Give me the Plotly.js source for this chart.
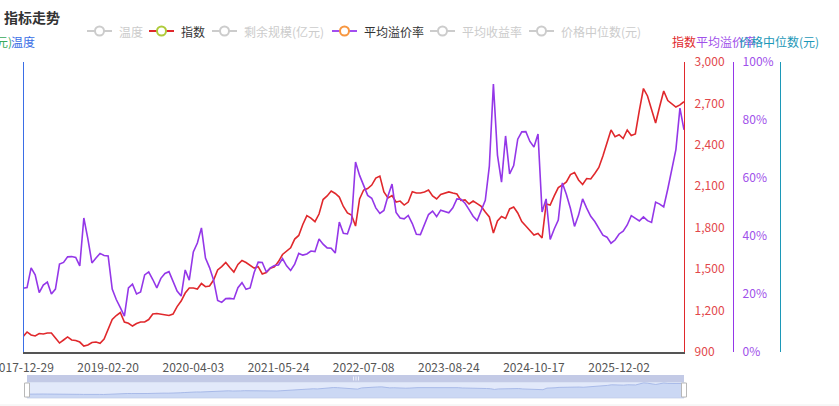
<!DOCTYPE html>
<html>
<head>
<meta charset="utf-8">
<script src="https://cdn.plot.ly/plotly-3.0.1.min.js"></script>
<style>
  html, body { margin: 0; padding: 0; background: #fff; }
  #chart { width: 839px; height: 406px; }
</style>
</head>
<body>
<div id="chart"></div>
<script>
// tick labels on the category axis (one label every 21 samples)
var tickLabels = ['2017-12-29', '2019-02-20', '2020-04-03', '2021-05-24',
                  '2022-07-08', '2023-08-24', '2024-10-17', '2025-12-02'];

// 指数 (one sample per ~4px)
var indexValues = [
  1011, 1045, 1023, 1016, 1034, 1030, 1038, 1038, 1001, 965,
  987, 1009, 987, 983, 972, 943, 951, 969, 972, 963,
  994, 1059, 1135, 1164, 1186, 1117, 1108, 1088, 1106, 1117,
  1117, 1135, 1175, 1179, 1175, 1168, 1164, 1175, 1229, 1269,
  1327, 1363, 1363, 1356, 1396, 1373, 1378, 1421, 1494, 1518,
  1548, 1512, 1479, 1534, 1563, 1548, 1530, 1508, 1518, 1465,
  1476, 1506, 1516, 1555, 1606, 1631, 1655, 1718, 1744, 1823,
  1888, 1870, 1844, 1899, 2004, 2030, 2066, 2048, 2022, 1954,
  1907, 1892, 1812, 2008, 2073, 2084, 2109, 2160, 2174, 2059,
  2015, 2033, 1986, 1993, 1964, 1986, 2061, 2051, 2051, 2059,
  2073, 2030, 2008, 2041, 2049, 2059, 2051, 2044, 1997, 2001,
  1972, 1993, 1975, 1954, 1914, 1878, 1762, 1849, 1881, 1867,
  1936, 1950, 1907, 1844, 1812, 1783, 1747, 1758, 1726, 1972,
  1964, 2030, 2091, 2109, 2131, 2185, 2200, 2146, 2113, 2156,
  2153, 2193, 2236, 2319, 2406, 2508, 2459, 2473, 2446, 2508,
  2468, 2479, 2652, 2808, 2754, 2652, 2558, 2678, 2790, 2721,
  2696, 2674, 2689, 2713
];

// 平均溢价率 (%)
var premiumValues = [
  22.0, 22.2, 29.0, 26.6, 20.5, 23.1, 24.1, 20.0, 21.7, 30.3,
  30.9, 32.8, 32.9, 32.6, 29.7, 46.2, 39.0, 30.7, 32.4, 34.0,
  33.3, 33.1, 21.7, 18.1, 15.3, 12.4, 22.1, 23.4, 20.0, 20.7,
  26.6, 27.6, 25.0, 22.1, 25.4, 27.1, 27.7, 24.5, 21.0, 19.3,
  28.3, 24.8, 34.5, 37.6, 42.8, 32.4, 29.1, 24.8, 17.8, 17.1,
  18.4, 18.5, 18.3, 22.2, 23.9, 21.6, 22.1, 27.4, 31.0, 30.9,
  27.6, 29.0, 29.8, 30.0, 32.2, 29.7, 28.1, 30.3, 34.0, 33.4,
  33.8, 34.8, 34.6, 39.0, 37.2, 35.9, 35.8, 34.1, 44.8, 40.9,
  40.7, 44.8, 65.5, 60.9, 57.1, 54.0, 53.0, 49.7, 47.8, 48.8,
  53.8, 57.9, 48.1, 46.2, 45.9, 47.1, 44.3, 40.6, 40.5, 44.3,
  47.4, 48.6, 46.7, 48.9, 48.4, 48.0, 49.7, 52.8, 52.7, 51.3,
  49.1, 46.8, 45.3, 48.9, 52.3, 64.1, 92.4, 67.9, 58.6, 74.5,
  61.4, 64.3, 73.4, 75.9, 76.0, 72.6, 70.7, 75.2, 48.3, 52.8,
  38.8, 42.4, 45.5, 58.3, 54.3, 49.5, 43.3, 47.2, 52.8, 49.6,
  46.8, 45.0, 42.4, 40.3, 39.6, 37.5, 38.6, 40.7, 41.7, 43.8,
  47.0, 46.1, 45.2, 46.6, 45.3, 44.7, 51.7, 51.0, 50.0, 56.2,
  63.3, 69.8, 84.1, 76.6
];

var legendItems = ['温度', '指数', '剩余规模(亿元)', '平均溢价率', '平均收益率', '价格中位数(元)'];

var FONT = 'Noto Sans CJK SC, Noto Sans, sans-serif';
var RED = '#e0282c';
var PURPLE = '#9437e8';
var TEAL = '#1c98b8';
var BLUE = '#3a6ee6';
var GREEN = '#3aaa5a';

// pixel -> paper helpers (plot box is x 23..790, y 62..398)
var L = 23, W = 767, T = 62, H = 336;
function px(x) { return (x - L) / W; }
function py(y) { return (T + H - y) / H; }

var last = indexValues.length - 1;
var tickPos = tickLabels.map(function (_, k) { return k * 21; });

var traces = [
  {
    y: indexValues, type: 'scatter', mode: 'lines', name: '指数',
    line: { color: RED, width: 1.6 }, xaxis: 'x', yaxis: 'y', hoverinfo: 'skip'
  },
  {
    y: premiumValues, type: 'scatter', mode: 'lines', name: '平均溢价率',
    line: { color: PURPLE, width: 1.6 }, xaxis: 'x', yaxis: 'y2', hoverinfo: 'skip'
  },
  // hidden series, only here so their axes get drawn
  { x: [], y: [], type: 'scatter', mode: 'lines', name: '价格中位数(元)', xaxis: 'x', yaxis: 'y3' },
  { x: [], y: [], type: 'scatter', mode: 'lines', name: '温度', xaxis: 'x', yaxis: 'y4' },
  // data shadow in the zoom slider
  {
    y: indexValues, type: 'scatter', mode: 'lines', fill: 'tozeroy',
    line: { color: '#a3b6e6', width: 0.9 }, fillcolor: 'rgba(170,190,235,0.4)',
    xaxis: 'x2', yaxis: 'y5', hoverinfo: 'skip'
  }
];

// legend drawn by hand so inactive entries can be grey
var legendX = [87, 149, 212, 332, 430, 529];
var legendOn = [false, true, false, true, false, false];
var legendLine = ['#ccc', RED, '#ccc', '#a24ef0', '#ccc', '#ccc'];
var legendDot = ['#ccc', '#aecb3a', '#ccc', '#f7963f', '#ccc', '#ccc'];
var LY = 31;

var shapes = [];
var annotations = [];

legendItems.forEach(function (name, i) {
  var x0 = legendX[i];
  shapes.push({
    type: 'line', xref: 'paper', yref: 'paper',
    x0: px(x0), x1: px(x0 + 25), y0: py(LY), y1: py(LY),
    line: { color: legendLine[i], width: 2 }
  });
  shapes.push({
    type: 'circle', xref: 'paper', yref: 'paper',
    x0: px(x0 + 8), x1: px(x0 + 17), y0: py(LY + 4.5), y1: py(LY - 4.5),
    fillcolor: '#fff', line: { color: legendDot[i], width: 2 }
  });
  annotations.push({
    xref: 'paper', yref: 'paper', x: px(x0 + 30), y: py(LY),
    xanchor: 'left', yanchor: 'middle', showarrow: false, text: name,
    font: { family: FONT, size: 12, color: legendOn[i] ? '#333' : '#ccc' }
  });
});

// chart title
annotations.push({
  xref: 'paper', yref: 'paper', x: px(2), y: py(17),
  xanchor: 'left', yanchor: 'middle', showarrow: false, text: '<b>指标走势</b>',
  font: { family: FONT, size: 14, color: '#333' }
});

// axis names at the top of each axis
var axisNames = [
  { text: '剩余规模(亿元)', x: 14, anchor: 'right', color: GREEN },
  { text: '温度', x: 23, anchor: 'center', color: BLUE },
  { text: '指数', x: 684, anchor: 'center', color: RED },
  { text: '平均溢价率', x: 726, anchor: 'center', color: '#a050ea' },
  { text: '价格中位数(元)', x: 779, anchor: 'center', color: TEAL }
];
axisNames.forEach(function (a) {
  annotations.push({
    xref: 'paper', yref: 'paper', x: px(a.x), y: py(41),
    xanchor: a.anchor, yanchor: 'middle', showarrow: false, text: a.text,
    font: { family: FONT, size: 12, color: a.color }
  });
});

// zoom slider frame
shapes.push({
  type: 'rect', xref: 'paper', yref: 'paper', layer: 'below',
  x0: px(27), x1: px(684), y0: py(398), y1: py(382),
  fillcolor: '#e2e9fa', line: { color: '#d2dbee', width: 1 }
});
shapes.push({
  type: 'rect', xref: 'paper', yref: 'paper',
  x0: px(27), x1: px(684), y0: py(382), y1: py(375),
  fillcolor: '#c3cae6', line: { width: 0 }
});
[353.5, 356, 358.5].forEach(function (gx) {
  shapes.push({
    type: 'line', xref: 'paper', yref: 'paper',
    x0: px(gx), x1: px(gx), y0: py(380.5), y1: py(376.5),
    line: { color: '#eef1fa', width: 1 }
  });
});
[27, 684].forEach(function (hx) {
  shapes.push({
    type: 'rect', xref: 'paper', yref: 'paper',
    x0: px(hx - 2.5), x1: px(hx + 2.5), y0: py(397), y1: py(383),
    fillcolor: '#fff', line: { color: '#b8b8b8', width: 1 }
  });
});
shapes.push({
  type: 'line', xref: 'paper', yref: 'paper',
  x0: px(0), x1: px(839), y0: py(405), y1: py(405),
  line: { color: '#eeeeee', width: 1 }
});

var mainDomain = [py(352), 1];

var layout = {
  width: 839,
  height: 406,
  margin: { l: L, r: 839 - L - W, t: T, b: 406 - T - H, pad: 0 },
  paper_bgcolor: '#fff',
  plot_bgcolor: 'rgba(0,0,0,0)',
  showlegend: false,
  font: { family: FONT, size: 12, color: '#333' },
  xaxis: {
    domain: [0, px(684)], anchor: 'y', range: [0, last],
    tickmode: 'array', tickvals: tickPos, ticktext: tickLabels,
    showgrid: false, zeroline: false, showline: true,
    linecolor: '#555', linewidth: 1.5, ticks: '', ticklabelstandoff: 4,
    ticklabeloverflow: 'allow',
    tickfont: { family: FONT, size: 12, color: '#555' }
  },
  yaxis: {
    domain: mainDomain, anchor: 'x', side: 'right',
    range: [900, 3000], tick0: 900, dtick: 300, tickformat: ',d',
    showgrid: false, zeroline: false, showline: true,
    linecolor: RED, linewidth: 1.2, ticks: '', ticklabelstandoff: 7,
    tickfont: { family: FONT, size: 12, color: '#e2474a' }
  },
  yaxis2: {
    overlaying: 'y', anchor: 'free', side: 'right', position: px(733),
    range: [0, 100], tick0: 0, dtick: 20, ticksuffix: '%',
    showgrid: false, zeroline: false, showline: true,
    linecolor: PURPLE, linewidth: 1.2, ticks: '', ticklabelstandoff: 6,
    tickfont: { family: FONT, size: 12, color: '#a050ea' }
  },
  yaxis3: {
    overlaying: 'y', anchor: 'free', side: 'right', position: px(780),
    range: [0, 1], showgrid: false, zeroline: false, showline: true,
    linecolor: TEAL, linewidth: 1.2, showticklabels: false, ticks: ''
  },
  yaxis4: {
    overlaying: 'y', anchor: 'free', side: 'left', position: 0,
    range: [0, 1], showgrid: false, zeroline: false, showline: true,
    linecolor: BLUE, linewidth: 1.2, showticklabels: false, ticks: ''
  },
  xaxis2: {
    domain: [px(27), px(684)], anchor: 'y5', range: [0, last], visible: false
  },
  yaxis5: {
    domain: [0, py(382)], anchor: 'x2', range: [400, 2950], visible: false
  },
  shapes: shapes,
  annotations: annotations
};

Plotly.newPlot('chart', traces, layout, { staticPlot: true, displayModeBar: false });
</script>
</body>
</html>
